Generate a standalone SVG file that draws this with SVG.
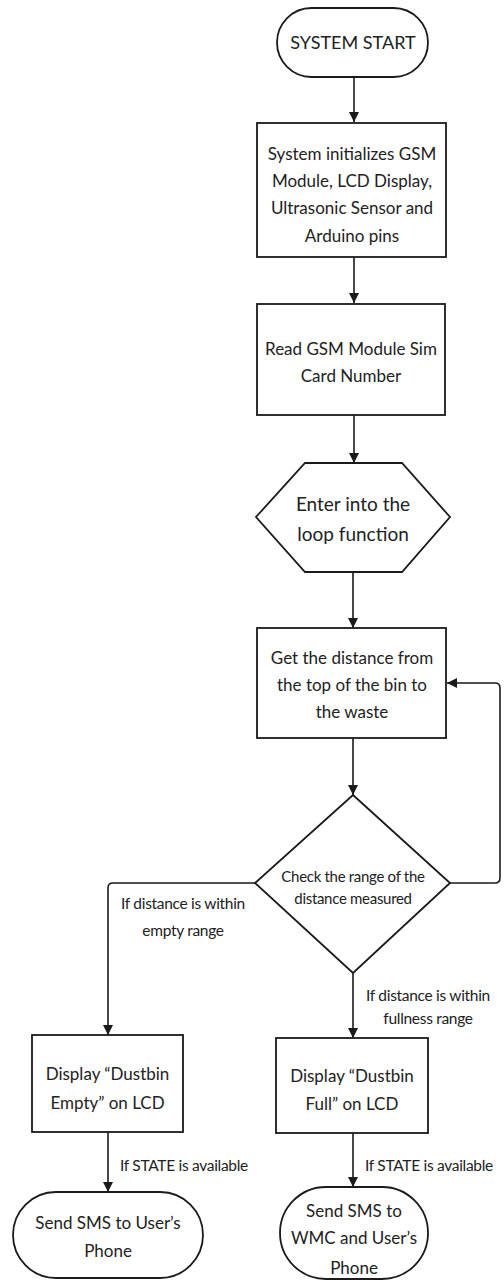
<svg xmlns="http://www.w3.org/2000/svg" width="504" height="1280" viewBox="0 0 504 1280">
  <style>
    .shape { fill: #fff; stroke: #1a1a1a; stroke-width: 1.8; }
    .edge { fill: none; stroke: #1a1a1a; stroke-width: 1.6; }
    .t { font-family: Lato, "Liberation Sans", sans-serif; fill: #222; text-anchor: middle; dominant-baseline: central; }
    .tb { font-size: 17px; }
    .th { font-size: 19px; }
    .ts { font-size: 15px; letter-spacing: -0.3px; }
    .tl { font-size: 15.5px; letter-spacing: -0.3px; }
  </style>
  <defs>
    <marker id="arrow" viewBox="0 0 10 10" refX="10" refY="5" markerWidth="10" markerHeight="10" markerUnits="userSpaceOnUse" orient="auto">
      <path d="M0,0 L10,5 L0,10 Z" fill="#1a1a1a"/>
    </marker>
  </defs>

  <rect width="504" height="1280" fill="#fff"/>

  <!-- connectors -->
  <g id="connectors">
    <line class="edge" x1="354" y1="77" x2="354" y2="122" marker-end="url(#arrow)"/>
    <line class="edge" x1="354" y1="257" x2="354" y2="303" marker-end="url(#arrow)"/>
    <line class="edge" x1="354" y1="415" x2="354" y2="463" marker-end="url(#arrow)"/>
    <line class="edge" x1="353" y1="572" x2="353" y2="628" marker-end="url(#arrow)"/>
    <line class="edge" x1="353" y1="738" x2="353" y2="795" marker-end="url(#arrow)"/>
    <!-- loop back to the distance reading -->
    <path class="edge" d="M450,883 H495 Q500,883 500,878 V688 Q500,683 495,683 H447" marker-end="url(#arrow)"/>
    <!-- empty branch -->
    <path class="edge" d="M255,883 H113 Q108,883 108,888 V1035" marker-end="url(#arrow)"/>
    <!-- full branch -->
    <line class="edge" x1="353" y1="973" x2="353" y2="1038" marker-end="url(#arrow)"/>
    <line class="edge" x1="108" y1="1132" x2="108" y2="1192" marker-end="url(#arrow)"/>
    <line class="edge" x1="353" y1="1133" x2="353" y2="1187" marker-end="url(#arrow)"/>

    <text class="t tl" x="183" y="903">If distance is within</text>
    <text class="t tl" x="183" y="930">empty range</text>
    <text class="t tl" x="428" y="995">If distance is within</text>
    <text class="t tl" x="428" y="1018">fullness range</text>
    <text class="t tl" x="184" y="1165">If STATE is available</text>
    <text class="t tl" x="429" y="1165">If STATE is available</text>
  </g>

  <g id="start">
    <rect class="shape" x="277" y="8" width="151" height="69" rx="34.5"/>
    <text class="t" x="353" y="42" font-size="18">SYSTEM START</text>
  </g>

  <g id="init">
    <rect class="shape" x="257" y="123" width="189" height="134"/>
    <text class="t tb" x="352" y="153">System initializes GSM</text>
    <text class="t tb" x="352" y="180">Module, LCD Display,</text>
    <text class="t tb" x="352" y="207">Ultrasonic Sensor and</text>
    <text class="t tb" x="352" y="235">Arduino pins</text>
  </g>

  <g id="read-sim">
    <rect class="shape" x="257" y="304" width="188" height="111"/>
    <text class="t tb" x="351" y="348">Read GSM Module Sim</text>
    <text class="t tb" x="351" y="375">Card Number</text>
  </g>

  <g id="loop">
    <polygon class="shape" points="305,463 402,463 450,517 402,572 305,572 256,517"/>
    <text class="t th" x="353" y="503">Enter into the</text>
    <text class="t th" x="353" y="533">loop function</text>
  </g>

  <g id="measure">
    <rect class="shape" x="257" y="628" width="189" height="110"/>
    <text class="t tb" x="352" y="657">Get the distance from</text>
    <text class="t tb" x="352" y="684">the top of the bin to</text>
    <text class="t tb" x="352" y="711">the waste</text>
  </g>

  <g id="check">
    <polygon class="shape" points="353,795 450,883 353,973 255,883"/>
    <text class="t ts" x="353" y="876">Check the range of the</text>
    <text class="t ts" x="353" y="898">distance measured</text>
  </g>

  <g id="show-empty">
    <rect class="shape" x="32" y="1035" width="151" height="97"/>
    <text class="t tb" x="107.5" y="1073">Display “Dustbin</text>
    <text class="t tb" x="107.5" y="1102">Empty” on LCD</text>
  </g>

  <g id="show-full">
    <rect class="shape" x="276" y="1038" width="152" height="95"/>
    <text class="t tb" x="352" y="1075">Display “Dustbin</text>
    <text class="t tb" x="352" y="1103">Full” on LCD</text>
  </g>

  <g id="sms-user">
    <rect class="shape" x="13" y="1192" width="190" height="86" rx="43"/>
    <text class="t tb" x="108" y="1222">Send SMS to User’s</text>
    <text class="t tb" x="108" y="1250">Phone</text>
  </g>

  <g id="sms-wmc">
    <rect class="shape" x="280" y="1187" width="148" height="92" rx="46"/>
    <text class="t tb" x="354" y="1210">Send SMS to</text>
    <text class="t tb" x="354" y="1237">WMC and User’s</text>
    <text class="t tb" x="354" y="1267">Phone</text>
  </g>
</svg>
